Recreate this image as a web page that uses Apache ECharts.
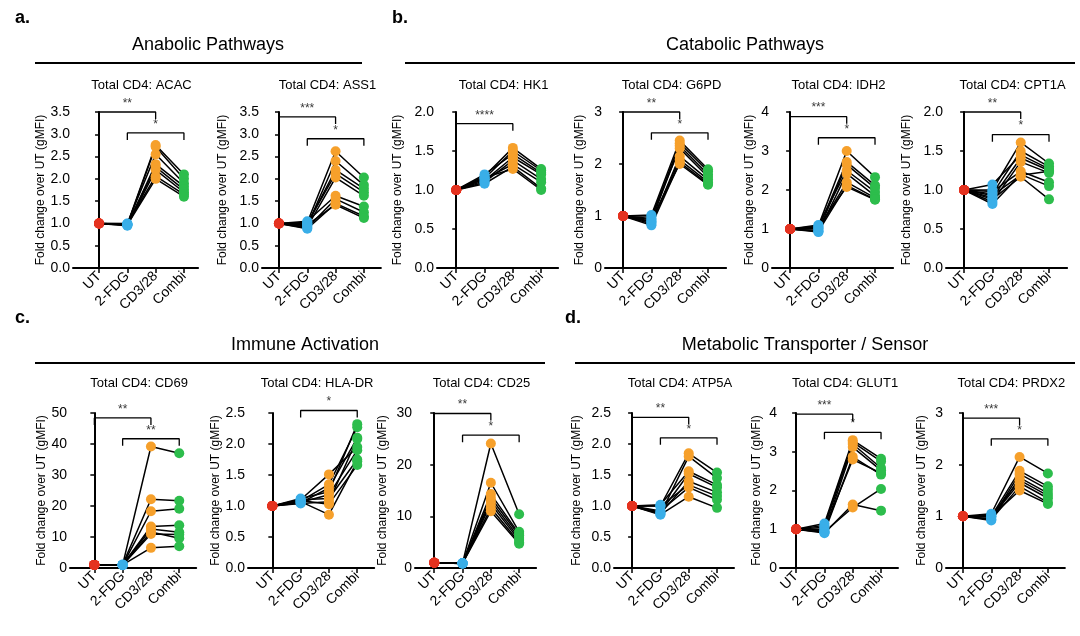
<!DOCTYPE html>
<html lang="en">
<head>
  <meta charset="UTF-8">
  <title>Total CD4 fold change over UT</title>
  <style>
    html, body { margin: 0; padding: 0; background: #fff; }
    #root { width: 1080px; height: 636px; }
  </style>
</head>
<body>
<div id="root"></div>
<script src="https://cdn.jsdelivr.net/npm/echarts@6/dist/echarts.min.js"></script>
<script>
  // groups on the x axis
  const groups = ['UT', '2-FDG', 'CD3/28', 'Combi']
  // UT is the reference: every donor is 1 by definition
  const UT_VALUE = 1

  // per donor values for 2-FDG, CD3/28 and Combi
  const acacFdg = [0.98, 0.97, 1.00, 0.96, 0.98, 0.95, 0.99, 0.97]
  const acacCd3 = [2.76, 2.72, 2.55, 2.33, 2.27, 2.20, 2.06, 2.00]
  const acacCombi = [2.10, 2.00, 1.90, 1.83, 1.76, 1.70, 1.65, 1.60]
  const acacSig = [[0, 2, 3.5, '**'], [1, 3, 3.03, '*']]

  const ass1Fdg = [1.02, 0.95, 0.98, 1.00, 0.92, 1.05, 0.90, 0.88, 0.97]
  const ass1Cd3 = [2.62, 2.40, 2.20, 2.12, 2.03, 1.62, 1.55, 1.45, 1.42]
  const ass1Combi = [2.03, 1.86, 1.78, 1.70, 1.62, 1.38, 1.25, 1.16, 1.12]
  const ass1Sig = [[0, 2, 3.39, '***'], [1, 3, 2.9, '*']]

  const hk1Fdg = [1.18, 1.15, 1.20, 1.12, 1.10, 1.14, 1.08, 1.16]
  const hk1Cd3 = [1.54, 1.50, 1.46, 1.42, 1.38, 1.33, 1.30, 1.27]
  const hk1Combi = [1.27, 1.25, 1.22, 1.20, 1.14, 1.10, 1.02, 1.00]
  const hk1Sig = [[0, 2, 1.85, '****']]

  const g6pdFdg = [1.02, 0.95, 0.90, 1.00, 0.85, 0.88, 0.82, 0.93]
  const g6pdCd3 = [2.45, 2.40, 2.35, 2.30, 2.15, 2.08, 2.03, 2.00]
  const g6pdCombi = [1.90, 1.86, 1.80, 1.75, 1.70, 1.65, 1.62, 1.60]
  const g6pdSig = [[0, 2, 3.0, '**'], [1, 3, 2.6, '*']]

  const idh2Fdg = [1.08, 1.02, 0.95, 1.10, 0.92, 1.00, 0.94, 1.05]
  const idh2Cd3 = [3.00, 2.72, 2.65, 2.50, 2.42, 2.20, 2.12, 2.08]
  const idh2Combi = [2.33, 2.12, 2.05, 1.95, 1.85, 1.80, 1.76, 1.75]
  const idh2Sig = [[0, 2, 3.88, '***'], [1, 3, 3.34, '*']]

  const cpt1aFdg = [1.00, 0.95, 1.07, 0.90, 0.85, 0.98, 0.82, 0.88, 0.93]
  const cpt1aCd3 = [1.61, 1.50, 1.45, 1.41, 1.36, 1.24, 1.20, 1.17, 1.19]
  const cpt1aCombi = [1.34, 1.30, 1.27, 1.25, 1.22, 1.10, 1.05, 0.88, 1.24]
  const cpt1aSig = [[0, 2, 2.0, '**'], [1, 3, 1.71, '*']]

  const cd69Fdg = [1.0, 1.1, 0.9, 1.0, 1.05, 0.95, 1.0, 1.0]
  const cd69Cd3 = [39.2, 22.2, 18.3, 13.4, 12.6, 11.6, 11.0, 6.5]
  const cd69Combi = [37.0, 21.7, 19.1, 13.8, 11.5, 9.6, 10.8, 7.0]
  const cd69Sig = [[0, 2, 48.4, '**'], [1, 3, 41.7, '**']]

  const hladrFdg = [1.10, 1.08, 1.05, 1.12, 1.06, 1.10, 1.04, 1.09, 1.07]
  const hladrCd3 = [1.51, 1.35, 1.29, 1.23, 1.18, 1.12, 1.07, 1.03, 0.86]
  const hladrCombi = [1.95, 2.27, 2.10, 2.32, 1.90, 1.75, 2.08, 1.66, 1.72]
  const hladrSig = [[1, 3, 2.54, '*']]

  const cd25Fdg = [0.90, 0.85, 0.95, 0.90, 0.88, 0.92, 0.90, 0.87]
  const cd25Cd3 = [24.1, 16.5, 14.3, 13.6, 13.0, 12.4, 11.6, 11.0]
  const cd25Combi = [10.4, 7.0, 6.6, 6.3, 5.8, 5.4, 5.0, 4.7]
  const cd25Sig = [[0, 2, 29.9, '**'], [1, 3, 25.7, '*']]

  const atp5aFdg = [1.00, 0.87, 1.02, 0.90, 0.88, 1.00, 0.92, 0.86]
  const atp5aCd3 = [1.85, 1.80, 1.56, 1.52, 1.40, 1.34, 1.30, 1.15]
  const atp5aCombi = [1.54, 1.45, 1.34, 1.30, 1.22, 1.16, 1.10, 0.97]
  const atp5aSig = [[0, 2, 2.43, '**'], [1, 3, 2.1, '*']]

  const glut1Fdg = [1.15, 1.10, 1.05, 0.95, 0.92, 1.00, 0.90, 0.93]
  const glut1Cd3 = [3.30, 3.25, 3.20, 3.12, 2.87, 2.80, 1.64, 1.56]
  const glut1Combi = [2.82, 2.75, 2.58, 2.52, 2.41, 2.45, 1.48, 2.04]
  const glut1Sig = [[0, 2, 3.97, '***'], [1, 3, 3.5, '*']]

  const prdx2Fdg = [1.05, 1.00, 0.95, 0.92, 1.02, 0.98, 0.94, 1.00]
  const prdx2Cd3 = [2.15, 1.88, 1.82, 1.75, 1.70, 1.65, 1.58, 1.50]
  const prdx2Combi = [1.83, 1.58, 1.52, 1.45, 1.40, 1.35, 1.27, 1.24]
  const prdx2Sig = [[0, 2, 2.9, '***'], [1, 3, 2.5, '*']]

  const panels = [
    { title: 'Total CD4: ACAC', fdg: acacFdg, cd3: acacCd3, combi: acacCombi, sig: acacSig, yMax: 3.5, yStep: 0.5, dec: 1 },
    { title: 'Total CD4: ASS1', fdg: ass1Fdg, cd3: ass1Cd3, combi: ass1Combi, sig: ass1Sig, yMax: 3.5, yStep: 0.5, dec: 1 },
    { title: 'Total CD4: HK1', fdg: hk1Fdg, cd3: hk1Cd3, combi: hk1Combi, sig: hk1Sig, yMax: 2, yStep: 0.5, dec: 1 },
    { title: 'Total CD4: G6PD', fdg: g6pdFdg, cd3: g6pdCd3, combi: g6pdCombi, sig: g6pdSig, yMax: 3, yStep: 1, dec: 0 },
    { title: 'Total CD4: IDH2', fdg: idh2Fdg, cd3: idh2Cd3, combi: idh2Combi, sig: idh2Sig, yMax: 4, yStep: 1, dec: 0 },
    { title: 'Total CD4: CPT1A', fdg: cpt1aFdg, cd3: cpt1aCd3, combi: cpt1aCombi, sig: cpt1aSig, yMax: 2, yStep: 0.5, dec: 1 },
    { title: 'Total CD4: CD69', fdg: cd69Fdg, cd3: cd69Cd3, combi: cd69Combi, sig: cd69Sig, yMax: 50, yStep: 10, dec: 0 },
    { title: 'Total CD4: HLA-DR', fdg: hladrFdg, cd3: hladrCd3, combi: hladrCombi, sig: hladrSig, yMax: 2.5, yStep: 0.5, dec: 1 },
    { title: 'Total CD4: CD25', fdg: cd25Fdg, cd3: cd25Cd3, combi: cd25Combi, sig: cd25Sig, yMax: 30, yStep: 10, dec: 0 },
    { title: 'Total CD4: ATP5A', fdg: atp5aFdg, cd3: atp5aCd3, combi: atp5aCombi, sig: atp5aSig, yMax: 2.5, yStep: 0.5, dec: 1 },
    { title: 'Total CD4: GLUT1', fdg: glut1Fdg, cd3: glut1Cd3, combi: glut1Combi, sig: glut1Sig, yMax: 4, yStep: 1, dec: 0 },
    { title: 'Total CD4: PRDX2', fdg: prdx2Fdg, cd3: prdx2Cd3, combi: prdx2Combi, sig: prdx2Sig, yMax: 3, yStep: 1, dec: 0 }
  ]

  // where each little plot sits (pixels), and how far the y name is from the axis
  const layout = [
    { left: 73, top: 112, h: 156, xMin: -0.92, xMax: 3.5, gap: 25 },
    { left: 262, top: 112, h: 156, xMin: -0.6, xMax: 3.6, gap: 33 },
    { left: 437, top: 112, h: 156, xMin: -0.68, xMax: 3.6, gap: 33 },
    { left: 605, top: 112, h: 156, xMin: -0.64, xMax: 3.64, gap: 19 },
    { left: 772, top: 112, h: 156, xMin: -0.64, xMax: 3.64, gap: 16 },
    { left: 946, top: 112, h: 156, xMin: -0.64, xMax: 3.64, gap: 33 },
    { left: 70, top: 413, h: 155, xMin: -0.86, xMax: 3.6, gap: 21 },
    { left: 248, top: 413, h: 155, xMin: -0.86, xMax: 3.6, gap: 25 },
    { left: 415, top: 413, h: 155, xMin: -0.68, xMax: 3.6, gap: 26 },
    { left: 614, top: 413, h: 155, xMin: -0.64, xMax: 3.6, gap: 31 },
    { left: 780, top: 413, h: 155, xMin: -0.57, xMax: 3.6, gap: 17 },
    { left: 946, top: 413, h: 155, xMin: -0.6, xMax: 3.6, gap: 18 }
  ]
  const UNIT = 28.3
  const FONT = 'Helvetica, Arial, "Liberation Sans", sans-serif'
  const colors = ['#e4321f', '#39aee8', '#f6a02b', '#2dbd4c']

  let grid = [], xAxis = [], yAxis = [], series = [], graphic = []

  panels.forEach((p, i) => {
    const L = layout[i]
    const w = (L.xMax - L.xMin) * UNIT
    grid.push({ left: L.left, top: L.top, width: w, height: L.h })
    xAxis.push({
      gridIndex: i, type: 'value', min: L.xMin, max: L.xMax,
      splitLine: { show: false },
      axisLine: { lineStyle: { color: '#000', width: 2 } },
      axisTick: { customValues: [0, 1, 2, 3], length: 5, lineStyle: { color: '#000', width: 1.5 } },
      axisLabel: { customValues: [0, 1, 2, 3], formatter: v => groups[Math.round(v)], rotate: 45, margin: 6, color: '#000', fontSize: 14, fontFamily: FONT }
    })
    yAxis.push({
      gridIndex: i, type: 'value', min: 0, max: p.yMax, interval: p.yStep,
      name: 'Fold change over UT (gMFI)', nameLocation: 'middle', nameGap: L.gap,
      nameTextStyle: { fontSize: 12, color: '#000', fontFamily: FONT },
      splitLine: { show: false },
      axisLine: { show: true, lineStyle: { color: '#000', width: 2 } },
      axisTick: { show: true, length: 4, lineStyle: { color: '#000', width: 1.5 } },
      axisLabel: { formatter: v => v.toFixed(p.dec), margin: 3, color: '#000', fontSize: 14, fontFamily: FONT }
    })

    // donor lines
    p.cd3.forEach((c, j) => {
      series.push({
        type: 'line', xAxisIndex: i, yAxisIndex: i, symbol: 'none', silent: true, z: 2,
        lineStyle: { color: '#000', width: 1.5 },
        data: [[0, UT_VALUE], [1, p.fdg[j]], [2, c], [3, p.combi[j]]]
      })
    })
    // coloured points per group
    const cols = [p.cd3.map(() => UT_VALUE), p.fdg, p.cd3, p.combi]
    cols.forEach((vals, g) => {
      series.push({
        type: 'scatter', xAxisIndex: i, yAxisIndex: i, symbolSize: 10, z: 3, silent: true,
        itemStyle: { color: colors[g], opacity: 1 },
        data: vals.map(v => [g, v])
      })
    })
    // significance brackets
    const drop = p.yMax * 0.045
    p.sig.forEach(s => {
      series.push({
        type: 'line', xAxisIndex: i, yAxisIndex: i, symbol: 'none', silent: true, clip: false, z: 2,
        lineStyle: { color: '#000', width: 1.3 },
        data: [[s[0], s[2] - drop], [s[0], s[2]], [s[1], s[2]], [s[1], s[2] - drop]]
      })
      series.push({
        type: 'scatter', xAxisIndex: i, yAxisIndex: i, symbolSize: 1, silent: true, clip: false,
        itemStyle: { color: 'rgba(0,0,0,0)' },
        label: { show: true, position: 'top', distance: 2, formatter: s[3], fontSize: 12, color: '#000', fontFamily: FONT },
        data: [[(s[0] + s[1]) / 2, s[2]]]
      })
    })

    graphic.push({
      type: 'text', x: L.left + w / 2 + 6, y: L.top - (i < 6 ? 27 : 30),
      style: { text: p.title, fontSize: 13, fontFamily: FONT, fill: '#000', align: 'center', verticalAlign: 'middle' }
    })
  })

  // section headers with their rules
  const headers = [
    { letter: 'a.', lx: 15, text: 'Anabolic Pathways', cx: 208, y: 45, x1: 35, x2: 362 },
    { letter: 'b.', lx: 392, text: 'Catabolic Pathways', cx: 745, y: 45, x1: 405, x2: 1075 },
    { letter: 'c.', lx: 15, text: 'Immune Activation', cx: 305, y: 345, x1: 35, x2: 545 },
    { letter: 'd.', lx: 565, text: 'Metabolic Transporter / Sensor', cx: 805, y: 345, x1: 575, x2: 1075 }
  ]
  headers.forEach(h => {
    graphic.push({
      type: 'text', x: h.lx, y: h.y - 27,
      style: { text: h.letter, fontSize: 18, fontWeight: 'bold', fontFamily: FONT, fill: '#000', align: 'left', verticalAlign: 'middle' }
    })
    graphic.push({
      type: 'text', x: h.cx, y: h.y,
      style: { text: h.text, fontSize: 18, fontFamily: FONT, fill: '#000', align: 'center', verticalAlign: 'middle' }
    })
    graphic.push({
      type: 'line', shape: { x1: h.x1, y1: h.y + 18, x2: h.x2, y2: h.y + 18 },
      style: { stroke: '#000', lineWidth: 2 }
    })
  })

  let myChart = echarts.init(document.getElementById('root'))
  myChart.setOption({
    animation: false,
    backgroundColor: '#fff',
    grid, xAxis, yAxis, series, graphic
  })
</script>
</body>
</html>
